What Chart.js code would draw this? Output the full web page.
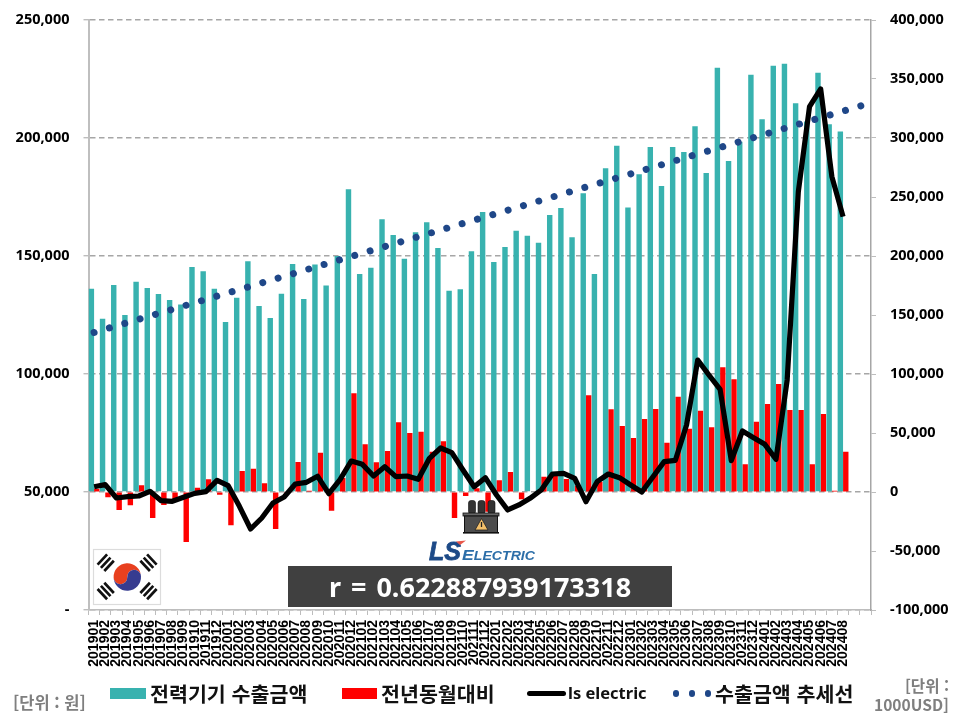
<!DOCTYPE html>
<html lang="ko"><head><meta charset="utf-8">
<script src="https://cdn.jsdelivr.net/npm/chart.js@4"></script>
<style>
html,body{margin:0;padding:0;background:#fff;width:960px;height:720px;overflow:hidden}
#wrap{position:relative;width:960px;height:720px;font-family:"Noto Sans CJK KR","Noto Sans",sans-serif}
canvas{position:absolute;left:0;top:0}
.t{position:absolute;white-space:nowrap;font-weight:700}
.m{position:absolute}
svg{position:absolute;left:0;top:0}
</style></head><body>
<div id="wrap"><canvas id="c" width="960" height="720"></canvas>
<svg width="960" height="720" viewBox="0 0 960 720">
  <!-- flag -->
  <rect x="93.5" y="549.5" width="67" height="55" fill="#fff" stroke="#dcdcdc" stroke-width="1.2"/>
  <g transform="translate(127.3 577) rotate(-3)">
    <path d="M-13.7 0A13.7 13.7 0 0 1 13.7 0A6.85 6.85 0 0 0 0 0A6.85 6.85 0 0 1 -13.7 0Z" fill="#e8401f"/>
    <path d="M-13.7 0A6.85 6.85 0 0 0 0 0A6.85 6.85 0 0 1 13.7 0A13.7 13.7 0 0 1 -13.7 0Z" fill="#373c90"/>
  </g>
  <g stroke="#111" stroke-width="2.7" stroke-linecap="butt">
    <g transform="translate(105.7 562.7) rotate(-47)"><path d="M-7 -4.6H7M-7 0H7M-7 4.6H7"/></g>
    <g transform="translate(148.5 562.7) rotate(47)"><path d="M-7 -4.6H7M-7 0H7M-7 4.6H7"/></g>
    <g transform="translate(105.7 591) rotate(47)"><path d="M-7 -4.6H7M-7 0H7M-7 4.6H7"/></g>
    <g transform="translate(148.5 591) rotate(-47)"><path d="M-7 -4.6H7M-7 0H7M-7 4.6H7"/></g>
  </g>
  <!-- transformer -->
  <g>
    <g fill="#333" stroke="#111" stroke-width=".6">
      <rect x="468.5" y="500.5" width="7" height="13.5" rx="2.5"/><rect x="478" y="500.5" width="7" height="13.5" rx="2.5"/><rect x="488" y="500.5" width="7" height="13.5" rx="2.5"/>
    </g>
    <rect x="463" y="513" width="36" height="3" fill="#666" stroke="#111" stroke-width=".8"/>
    <rect x="464.5" y="516" width="33" height="16.5" fill="#4d4d4d" stroke="#111" stroke-width="1"/>
    <rect x="463" y="532" width="36" height="1.6" fill="#111"/>
    <path d="M481.5 518.5L488 530H475Z" fill="#f4c06a" stroke="#222" stroke-width=".8"/>
    <path d="M481.5 522V527" stroke="#222" stroke-width="1.3"/>
  </g>
  <!-- logo -->
  <g font-family="Liberation Sans, sans-serif" font-weight="700" font-style="italic">
    <text x="429" y="559.5" font-size="26" fill="#1d4a87" stroke="#1d4a87" stroke-width=".8" textLength="32" lengthAdjust="spacingAndGlyphs">LS</text>
    <text x="462" y="559.5" fill="#2c6ea8" textLength="73" lengthAdjust="spacingAndGlyphs"><tspan font-size="15">E</tspan><tspan font-size="12">LECTRIC</tspan></text>
    <path d="M456 541.5L466 540.5L460 545Z" fill="#e8574a"/>
  </g>
</svg>
<div class="m" style="left:288px;top:566px;width:384px;height:41px;background:#404040"></div>
<div class="t" id="rt" style="left:288px;top:566px;width:384px;height:41px;line-height:41px;text-align:center;color:#fff;font-family:'Noto Sans',sans-serif;font-size:27px;word-spacing:3px"></div>
<div class="m" style="left:110px;top:688px;width:36px;height:10.5px;background:#38b2af"></div>
<div class="t l" style="left:150px;top:678px;font-size:20.6px;line-height:30px;color:#111"></div>
<div class="m" style="left:342px;top:688px;width:35px;height:10.5px;background:#ff0000"></div>
<div class="t l" style="left:381px;top:678px;font-size:20.6px;line-height:30px;color:#111"></div>
<div class="m" style="left:527px;top:690.5px;width:39px;height:5.5px;background:#000;border-radius:3px"></div>
<div class="t l" style="left:568px;top:678px;font-size:16.5px;line-height:30px;color:#111;font-family:'Noto Sans',sans-serif"></div>
<div class="m" style="left:672.5px;top:690px;width:6.5px;height:6.5px;background:#1f4788;border-radius:50%"></div>
<div class="m" style="left:688.5px;top:690px;width:6.5px;height:6.5px;background:#1f4788;border-radius:50%"></div>
<div class="m" style="left:704.5px;top:690px;width:6.5px;height:6.5px;background:#1f4788;border-radius:50%"></div>
<div class="t l" style="left:715px;top:678px;font-size:20.6px;line-height:30px;color:#111"></div>
<div class="t" id="u1" style="left:13px;top:692px;font-size:16.5px;line-height:20px;color:#7f7f7f"></div>
<div class="t" id="u2" style="right:11px;top:676px;font-size:15.6px;line-height:19px;color:#7f7f7f;text-align:right;white-space:pre"></div>
</div>
<script>
const categories = ["201901","201902","201903","201904","201905","201906","201907","201908","201909","201910","201911","201912",
"202001","202002","202003","202004","202005","202006","202007","202008","202009","202010","202011","202012",
"202101","202102","202103","202104","202105","202106","202107","202108","202109","202110","202111","202112",
"202201","202202","202203","202204","202205","202206","202207","202208","202209","202210","202211","202212",
"202301","202302","202303","202304","202305","202306","202307","202308","202309","202310","202311","202312",
"202401","202402","202403","202404","202405","202406","202407","202408","",""];
const exportAmount = [136150,123450,137700,125000,139100,136450,133900,131350,129400,145350,143500,136150,122050,132350,147750,128800,123750,134050,146600,131800,146450,137550,150000,178250,
142350,145050,165550,158900,148850,160050,164250,153400,135300,135900,152000,168650,147450,153800,160750,158600,155650,167350,170350,157900,176550,142350,187150,196750,
170500,184600,196200,179650,196200,194050,204950,185150,229800,190250,198450,226850,207900,230650,231500,214700,207000,227700,205800,202800];
const yoyChange = [2500,-4500,-15250,-11300,5650,-22000,-11000,-7000,-42400,3700,10700,-2250,-28250,17800,19800,7350,-31350,-1500,25400,1150,33350,-15800,11850,83700,
40400,25150,34750,59050,50000,51150,34200,42950,-22050,-3400,3100,-16700,9900,16950,-6200,-500,13000,14400,11000,5400,81950,8750,70050,55950,
45750,61850,70350,41800,80800,53700,68950,54800,105650,95500,23450,59600,74600,91550,69500,69500,23450,66100,1150,34200];
const lsElectric = [4500,6200,-5100,-3950,-3400,550,-7350,-7900,-4500,-1150,300,9900,5350,-12150,-31350,-22050,-9300,-4250,6800,8200,13300,-1400,10450,26250,
23450,13550,21450,13000,13550,10750,28550,37300,33350,18650,4500,12150,-2550,-15250,-11000,-5350,1700,15250,15800,11600,-8200,8750,15250,12150,
5950,0,13000,25700,26850,56800,111850,99150,87000,26550,51700,46050,40400,27700,94900,254500,326550,341550,267250,233350];
const exportTrend = [117600,119000,120400,121800,123200,124600,126000,127400,128800,130200,131600,133000,134400,135800,137200,138600,140000,141400,142800,144200,145600,147000,148400,149800,
151200,152600,154000,155400,156800,158200,159600,161000,162400,163800,165200,166600,168000,169400,170800,172200,173600,175000,176400,177800,179200,180600,182000,183400,
184800,186200,187600,189000,190400,191800,193200,194600,196000,197400,198800,200200,201600,203000,204400,205800,207200,208600,210000,211400,212800,214200];
const seriesNames = ["전력기기 수출금액","전년동월대비","ls electric","수출금액 추세선"];
const correlationText = "r = 0.622887939173318";
const leftUnit = "[단위 : 원]";
const rightUnit = "[단위 :\n1000USD]";

document.querySelectorAll('.l').forEach((e,i)=>e.textContent=seriesNames[i]);
document.getElementById('rt').textContent=correlationText;
document.getElementById('u1').textContent=leftUnit;
document.getElementById('u2').textContent=rightUnit;

const numFont={family:"'Noto Sans',sans-serif",size:14.5,weight:'700'};
const fmt=v=>v.toLocaleString('en-US');
new Chart(document.getElementById('c'),{
  data:{labels:categories,datasets:[
    {type:'bar',label:seriesNames[0],data:exportAmount,base:50000,yAxisID:'y',backgroundColor:'#38b2af',order:3,barPercentage:1,categoryPercentage:.97},
    {type:'bar',label:seriesNames[1],data:yoyChange,yAxisID:'y1',backgroundColor:'#ff0000',order:4,barPercentage:1,categoryPercentage:.97},
    {type:'line',label:seriesNames[3],data:exportTrend,yAxisID:'y',borderColor:'#1f4788',borderWidth:7,borderCapStyle:'round',borderDash:[0.01,15.98],pointRadius:0,tension:0,fill:false,order:2},
    {type:'line',label:seriesNames[2],data:lsElectric,yAxisID:'y1',borderColor:'#000',borderWidth:5.2,borderJoinStyle:'round',pointRadius:0,tension:0,fill:false,order:1}
  ]},
  options:{
    responsive:false,animation:false,devicePixelRatio:1,
    layout:{padding:{top:20,left:0,right:0,bottom:0}},
    plugins:{legend:{display:false},title:{display:false},tooltip:{enabled:false}},
    scales:{
      x:{position:'bottom',offset:true,
        grid:{display:true,offset:true,drawOnChartArea:false,color:'#bdbdbd',tickLength:5},
        border:{display:true,color:'#bdbdbd',width:1.5},
        ticks:{autoSkip:false,minRotation:90,maxRotation:90,padding:5,color:'#000',font:{family:"'Liberation Sans',sans-serif",size:14,weight:'700'}},
        afterFit(s){s.height=110;}
      },
      y:{position:'left',min:0,max:250000,
        grid:{color:'#a6a6a6',lineWidth:1.4,tickBorderDash:[],tickLength:5,tickColor:'#bdbdbd'},
        border:{display:true,color:'#bfbfbf',width:2,dash:[5.5,3.5]},
        ticks:{stepSize:50000,padding:14,color:'#000',font:numFont,callback:v=>v===0?'-':fmt(v)},
        afterFit(s){s.width=88.5;s.paddingTop=0;s.paddingBottom=0;}
      },
      y1:{position:'right',min:-100000,max:400000,
        grid:{drawOnChartArea:false,color:'#bdbdbd',tickLength:5},
        border:{display:true,color:'#a6a6a6',width:1.5},
        ticks:{stepSize:50000,padding:14,color:'#000',font:numFont,callback:v=>fmt(v)},
        afterFit(s){s.width=89;s.paddingTop=0;s.paddingBottom=0;}
      }
    }
  }
});
</script>
</body></html>
